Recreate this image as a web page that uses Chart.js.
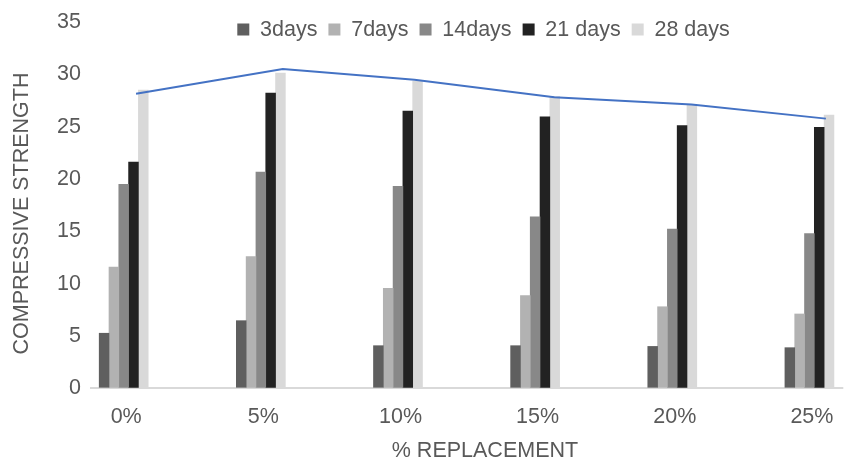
<!DOCTYPE html>
<html>
<head>
<meta charset="utf-8">
<script src="https://cdn.jsdelivr.net/npm/chart.js@4/dist/chart.umd.min.js"></script>
<style>
  html, body { margin: 0; padding: 0; background: #ffffff; }
  #wrap { width: 859px; height: 464px; position: relative; }
</style>
</head>
<body>
<div id="wrap"><canvas id="chart"></canvas></div>
<script>
// Replacement levels (x categories)
const categories = ['0%', '5%', '10%', '15%', '20%', '25%'];

// Curing ages shown in the legend
const seriesNames = ['3days', '7days', '14days', '21 days', '28 days'];

// Compressive strength per curing age
const days3  = [5.26, 6.46, 4.07, 4.07, 4.00, 3.88];
const days7  = [11.57, 12.58, 9.55, 8.86, 7.79, 7.10];
const days14 = [19.49, 20.65, 19.30, 16.37, 15.20, 14.79];
const days21 = [21.60, 28.19, 26.49, 25.92, 25.10, 24.94];
const days28 = [28.48, 30.11, 29.33, 27.87, 27.12, 26.11];

// Trend line over the 28-day results (position along the category axis, strength)
const trendX = [0.09, 1.16, 2.12, 3.14, 4.14, 5.12];
const trendY = [28.13, 30.49, 29.48, 27.80, 27.10, 25.76];

const barColors = ['#5f5f5f', '#b2b2b2', '#888888', '#222222', '#d9d9d9'];
const seriesValues = [days3, days7, days14, days21, days28];

const textColor = '#595959';
const font = { family: "'Liberation Sans', Arial, sans-serif", size: 21.5 };

const barDatasets = seriesValues.map((vals, s) => ({
  type: 'bar',
  label: seriesNames[s],
  data: vals.map((v, i) => ({ x: i, y: v })),
  backgroundColor: barColors[s],
  borderWidth: 0,
  barThickness: 9.8,
  clip: false,
  order: 1
}));

const trendDataset = {
  type: 'line',
  label: 'trend',
  data: trendX.map((x, i) => ({ x: x, y: trendY[i] })),
  borderColor: '#4472c4',
  borderWidth: 2,
  pointRadius: 0,
  tension: 0,
  fill: false,
  clip: false,
  order: -1
};

// Moves the legend and axis titles along their own axis after layout
const titleNudge = {
  id: 'titleNudge',
  afterLayout(chart, args, opts) {
    const lg = chart.legend;
    if (lg) {
      lg.left += opts.legendX;
      lg.right += opts.legendX;
      lg.bottom += opts.legendExtra;
      lg.height += opts.legendExtra;
    }
    // widen one edge only, so the title centre moves by half of it
    chart.scales.x.right += 2 * opts.xTitleX;
    chart.scales.y.bottom += 2 * opts.yTitleY;
  }
};

new Chart(document.getElementById('chart'), {
  data: { datasets: [...barDatasets, trendDataset] },
  plugins: [titleNudge],
  options: {
    responsive: true,
    maintainAspectRatio: false,
    animation: false,
    layout: { padding: { top: 4.25, right: 15.7, bottom: 0, left: 0 } },
    plugins: {
      tooltip: { enabled: false },
      titleNudge: { legendX: 136.3, legendExtra: 30, xTitleX: 18.3, yTitleY: 8.4 },
      legend: {
        position: 'top',
        align: 'start',
        fullSize: false,
        maxHeight: 14.05,
        labels: {
          boxWidth: 12,
          boxHeight: 12,
          padding: 11,
          color: textColor,
          font: font,
          filter: (item) => item.text !== 'trend'
        }
      }
    },
    scales: {
      x: {
        type: 'linear',
        offset: false,
        min: -0.2457,
        max: 5.247,
        grid: { display: false, drawTicks: false, offset: false },
        border: { display: false },
        ticks: {
          stepSize: 1,
          includeBounds: false,
          autoSkip: false,
          maxRotation: 0,
          padding: 16.3,
          labelOffset: 2.5,
          color: textColor,
          font: font,
          callback: (v) => (Number.isInteger(v) && categories[v] !== undefined) ? categories[v] : ''
        },
        title: {
          display: true,
          text: '% REPLACEMENT',
          color: textColor,
          font: font,
          padding: { top: 0, bottom: 0 }
        },
        afterFit: (s) => { s.height = 75.7; }
      },
      y: {
        min: 0,
        max: 35,
        border: { display: false },
        grid: {
          drawTicks: false,
          lineWidth: 2,
          color: (ctx) => (ctx.tick && ctx.tick.value === 0) ? '#d9d9d9' : 'rgba(0,0,0,0)'
        },
        ticks: {
          stepSize: 5,
          padding: 9,
          color: textColor,
          font: font
        },
        title: {
          display: true,
          text: 'COMPRESSIVE STRENGTH',
          color: textColor,
          font: font,
          padding: { top: 8.8, bottom: 0 }
        },
        afterFit: (s) => { s.width = 90; }
      }
    }
  }
});
</script>
</body>
</html>
